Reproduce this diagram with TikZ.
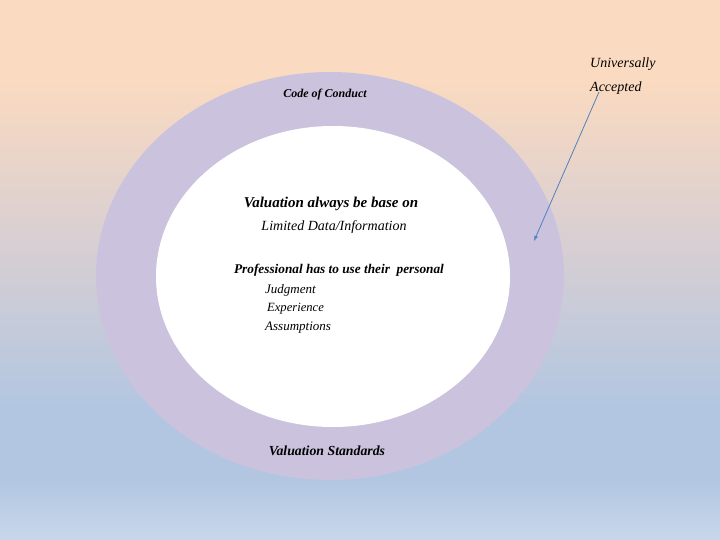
\documentclass[tikz,border=0pt]{standalone}
\usepackage{fontspec}
\setmainfont{Liberation Serif}
\usetikzlibrary{calc}
\definecolor{lavande}{RGB}{203,195,221}
\definecolor{flecheBleue}{RGB}{79,129,189}
\definecolor{peche}{RGB}{250,218,192}
\definecolor{milieu}{RGB}{216,207,210}
\definecolor{bleuClair}{RGB}{178,198,225}
\definecolor{bleuBas}{RGB}{200,215,235}
% fond : pêche en haut, bleu en bas (le chemin occupe 25bp..75bp)
\pgfdeclareverticalshading{fond}{100bp}{color(0bp)=(bleuBas); color(25bp)=(bleuBas); color(30.56bp)=(bleuClair); color(37bp)=(bleuClair); color(52.78bp)=(milieu); color(67.5bp)=(peche); color(75bp)=(peche); color(100bp)=(peche)}
\tikzset{
	gras/.style={font=\fontsize{#1}{#1}\selectfont\bfseries\itshape},
	gras/.default=12,
	fin/.style={font=\fontsize{#1}{#1}\selectfont\itshape},
	fin/.default=13,
}
\begin{document}
\begin{tikzpicture}[x=1pt,y=-1pt]
		\useasboundingbox (0,0) rectangle (720,540);
		\shade[shading=fond] (0,0) rectangle (720,540);
		\coordinate(O)at(330,276);
		% anneau extérieur et zone intérieure blanche
		\fill[lavande] (O) ellipse[x radius=234,y radius=204];
		\fill[white] (333,276.5) ellipse[x radius=177,y radius=150.5];
		% étiquettes de l'anneau
		\node[gras=12] (conduct) at (325,95) {Code of Conduct};
		\node[gras=13.8] (standards) at (327,451) {Valuation Standards};
		% texte du centre
		\node[gras=15] (base) at (331,204) {Valuation always be base on};
		\node[fin=14] (data) at (334,227) {Limited Data/Information};
		\node[gras=13.3] (prof) at (339,270) {Professional has to use their\ \ personal};
		\node[fin,anchor=west,inner sep=0] (judg) at (265,290) {Judgment};
		\node[fin=12.6,anchor=west,inner sep=0] (exp) at (267,309) {Experience};
		\node[fin,anchor=west,inner sep=0] (assum) at (265,328) {Assumptions};
		% flèche
		\node[fin=14,anchor=base west,align=left,inner sep=0] (univ) at (590,92) {Universally\\[10pt]Accepted};
		\coordinate(pointe)at(534,241);
		\draw[flecheBleue,thick,-latex] ($(univ.base west)+(9,0)$) -- (pointe);
	\end{tikzpicture}
\end{document}
